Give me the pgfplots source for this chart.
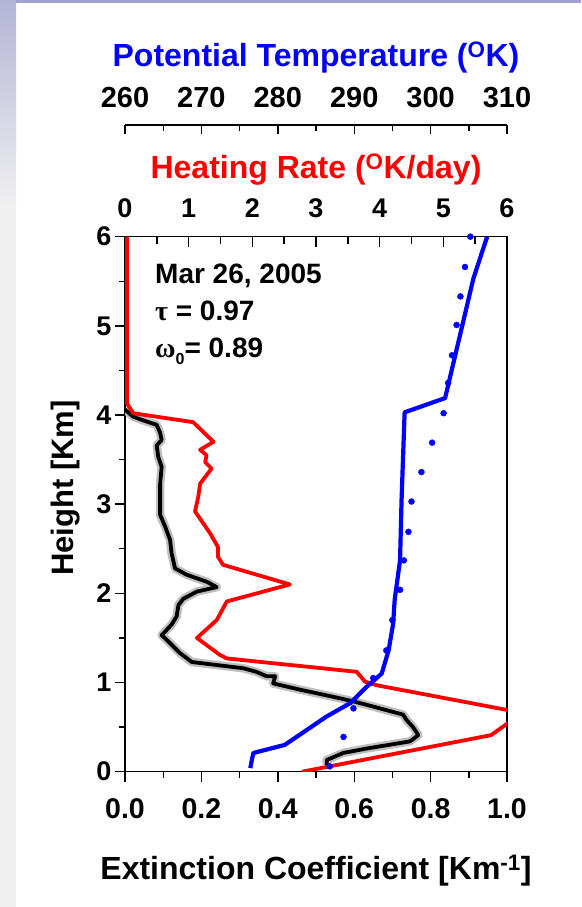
\documentclass[border=0pt]{standalone}
\usepackage{fontspec}
\setmainfont{Liberation Sans}
\newfontfamily\grk{Liberation Serif}
\usepackage{pgfplots}
\pgfplotsset{compat=1.18}
\begin{document}
\begin{tikzpicture}
\useasboundingbox (0pt,0pt) rectangle (581pt,907pt);
\fill[white] (0pt,0pt) rectangle (581pt,907pt);
\fill[gray!12] (0pt,0pt) rectangle (16pt,907pt);
\shade[top color=blue!30!gray!45, bottom color=gray!12] (0pt,700pt) rectangle (16pt,907pt);
\fill[blue!35!gray!55] (16pt,904pt) rectangle (581pt,907pt);
% ---------------- extinction coefficient (main axis) ----------------
\begin{axis}[
  at={(125pt,135.3pt)}, anchor=south west, scale only axis,
  width=382pt, height=535pt,
  xmin=0, xmax=1, ymin=0, ymax=6,
  axis line style={line width=1.6pt},
  xtick={0,0.2,0.4,0.6,0.8,1}, xticklabels={0.0,0.2,0.4,0.6,0.8,1.0},
  minor x tick num=1,
  ytick={0,1,2,3,4,5,6}, minor y tick num=1,
  xtick pos=bottom, ytick pos=left,
  tick align=outside,
  major tick length=10pt, minor tick length=6pt,
  every tick/.style={black, line width=1.4pt},
  /pgf/number format/assume math mode=true,
  tick label style={font=\fontsize{27}{27}\selectfont\bfseries},
  xticklabel style={font=\fontsize{28.5}{28.5}\selectfont\bfseries, anchor=base, yshift=-37pt},
  xlabel={Extinction Coefficient [Km\textsuperscript{-1}]},
  ylabel={Height [Km]},
  label style={font=\fontsize{32}{32}\selectfont\bfseries},
  xlabel style={at={(axis description cs:0.5,-0.185)}, anchor=center},
  ylabel style={font=\fontsize{31}{31}\selectfont\bfseries, at={(axis description cs:-0.1545,0.53)}, anchor=center},
]
\addplot[gray!50, line width=8.5pt, line join=round] table {
x y
0.000 4.06
0.022 3.98
0.048 3.94
0.083 3.89
0.092 3.80
0.096 3.72
0.083 3.66
0.087 3.53
0.096 3.42
0.092 3.23
0.092 3.05
0.092 2.88
0.105 2.75
0.118 2.60
0.122 2.45
0.131 2.28
0.161 2.21
0.214 2.13
0.240 2.07
0.188 2.02
0.153 1.94
0.140 1.87
0.135 1.74
0.122 1.65
0.096 1.53
0.109 1.48
0.144 1.33
0.175 1.23
0.310 1.16
0.344 1.12
0.371 1.07
0.393 1.07
0.388 0.99
0.458 0.92
0.545 0.84
0.597 0.79
0.650 0.73
0.728 0.64
0.737 0.58
0.754 0.50
0.768 0.41
0.746 0.34
0.633 0.26
0.571 0.21
0.528 0.13
0.528 0.075
};
\addplot[black, line width=3.8pt, line join=round] table {
x y
0.000 4.06
0.022 3.98
0.048 3.94
0.083 3.89
0.092 3.80
0.096 3.72
0.083 3.66
0.087 3.53
0.096 3.42
0.092 3.23
0.092 3.05
0.092 2.88
0.105 2.75
0.118 2.60
0.122 2.45
0.131 2.28
0.161 2.21
0.214 2.13
0.240 2.07
0.188 2.02
0.153 1.94
0.140 1.87
0.135 1.74
0.122 1.65
0.096 1.53
0.109 1.48
0.144 1.33
0.175 1.23
0.310 1.16
0.344 1.12
0.371 1.07
0.393 1.07
0.388 0.99
0.458 0.92
0.545 0.84
0.597 0.79
0.650 0.73
0.728 0.64
0.737 0.58
0.754 0.50
0.768 0.41
0.746 0.34
0.633 0.26
0.571 0.21
0.528 0.13
0.528 0.075
};
\node[anchor=base west, font=\fontsize{28}{28}\selectfont\bfseries, inner sep=0pt] at (axis cs:0.0785,5.48) {Mar 26, 2005};
\node[anchor=base west, font=\fontsize{28}{28}\selectfont\bfseries, inner sep=0pt] at (axis cs:0.0785,5.065) {{\grk τ} = 0.97};
\node[anchor=base west, font=\fontsize{28}{28}\selectfont\bfseries, inner sep=0pt] at (axis cs:0.0785,4.65) {{\grk ω}\raisebox{-7pt}{\fontsize{16}{16}\selectfont 0}= 0.89};
\end{axis}
% ---------------- heating rate ----------------
\begin{axis}[
  at={(125pt,135.3pt)}, anchor=south west, scale only axis,
  width=382pt, height=535pt,
  xmin=0, xmax=6, ymin=0, ymax=6,
  axis x line*=top, hide y axis,
  axis line style={line width=1.6pt, -},
  xtick={0,1,2,3,4,5,6}, minor x tick num=1,
  tick align=inside,
  major tick length=10pt, minor tick length=7pt,
  every tick/.style={black, line width=1.4pt},
  /pgf/number format/assume math mode=true,
  xticklabel style={font=\fontsize{27}{27}\selectfont\bfseries, anchor=base, yshift=19pt},
  xlabel={Heating Rate (\textsuperscript{O}K/day)},
  xlabel style={font=\fontsize{32}{32}\selectfont\bfseries, text=red, at={(axis description cs:0.5,1.1247)}, anchor=center},
]
\addplot[red, line width=3.8pt, line join=round] table {
x y
0.03 6.00
0.03 4.13
0.13 4.02
1.07 3.92
1.39 3.70
1.18 3.61
1.28 3.55
1.26 3.47
1.36 3.40
1.18 3.23
1.15 3.08
1.10 2.92
1.34 2.67
1.46 2.52
1.46 2.41
1.54 2.32
2.59 2.10
1.60 1.91
1.44 1.70
1.13 1.50
1.49 1.31
1.60 1.27
3.64 1.12
3.77 1.01
3.95 0.97
6.24 0.66
5.75 0.41
2.78 0.00
};
\end{axis}
% ---------------- potential temperature ----------------
\begin{axis}[
  at={(125pt,135.3pt)}, anchor=south west, scale only axis,
  width=382pt, height=646.7pt,
  xmin=260, xmax=310, ymin=0, ymax=7.2525,
  axis x line*=top, hide y axis,
  axis line style={line width=1.6pt, -},
  xtick={260,270,280,290,300,310}, minor x tick num=1,
  tick align=inside,
  major tick length=9pt, minor tick length=6pt,
  every tick/.style={black, line width=1.4pt},
  /pgf/number format/assume math mode=true,
  xticklabel style={font=\fontsize{29}{29}\selectfont\bfseries, anchor=base, yshift=17.5pt},
  xlabel={Potential Temperature (\textsuperscript{O}K)},
  xlabel style={font=\fontsize{32}{32}\selectfont\bfseries, text=blue, at={(axis description cs:0.5,1.1036)}, anchor=center},
]
\addplot[blue, line width=4.2pt, line join=round] table {
x y
307.4 6.00
305.6 5.53
301.9 4.19
296.6 4.03
296.2 3.05
296.0 2.37
295.3 1.93
295.1 1.66
294.5 1.36
293.6 1.10
291.6 0.95
289.5 0.77
286.4 0.62
280.9 0.30
276.8 0.21
276.6 0.13
276.4 0.04
};
\addplot[blue, only marks, mark=*, mark size=3pt] table {
x y
305.2 6.00
304.5 5.66
303.9 5.33
303.4 5.01
302.8 4.67
302.3 4.36
301.7 4.02
300.2 3.69
298.8 3.36
297.5 3.03
297.1 2.69
296.5 2.37
296.0 2.04
295.0 1.70
294.2 1.36
292.5 1.05
289.9 0.71
288.6 0.39
286.8 0.06
};
\end{axis}
\end{tikzpicture}
\end{document}
